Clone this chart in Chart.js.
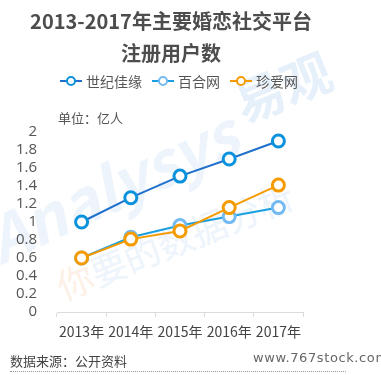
<!DOCTYPE html>
<html>
<head>
<meta charset="utf-8">
<script src="https://cdn.jsdelivr.net/npm/chart.js@4"></script>
<style>
body{margin:0;background:#fff;font-family:"Microsoft YaHei","Noto Sans CJK SC",sans-serif}
#wrap{position:relative;width:381px;height:375px;overflow:hidden}
#wrap canvas{position:absolute;left:0;top:0}
.txt{position:absolute;white-space:nowrap;color:#555}
.title{left:0;width:342px;text-align:center;font-size:20px;font-weight:bold;color:#4d4d4d}
.lg{position:absolute;top:73px;height:16px;font-size:14px;color:#555;line-height:16px}
.lg i{display:inline-block;position:relative;width:22px;height:16px;vertical-align:top;margin-right:4px}
.lg i:before{content:"";position:absolute;left:0;right:0;top:7px;height:2px;background:var(--c)}
.lg i:after{content:"";position:absolute;left:6px;top:3px;width:6px;height:6px;border-radius:50%;border:2px solid currentColor;background:#fff}
.wm{position:absolute;white-space:nowrap;color:#edf4fb;transform-origin:left top}
</style>
</head>
<body>
<div id="wrap">
  <div class="wm" style="left:-30px;top:200px;font-size:62px;font-weight:bold;font-style:italic;transform:rotate(-25deg)">Analysys</div>
  <div class="wm" style="left:222px;top:70px;font-size:50px;font-weight:bold;color:#e6f0fa;transform:rotate(-22deg)">易观</div>
  <div class="wm" style="left:48px;top:262px;font-size:36px;transform:rotate(-22deg)"><span style="color:#fdf0e6">你</span>要的数据分析</div>
  <canvas id="c" width="381" height="375"></canvas>
  <div class="txt title" style="top:6px">2013-2017年主要婚恋社交平台</div>
  <div class="txt title" style="top:38px">注册用户数</div>
  <div id="legend"></div>
  <div class="txt" style="left:58px;top:108px;font-size:13px">单位：亿人</div>
  <div class="txt" style="left:10px;top:351px;font-size:13px;color:#444">数据来源：公开资料</div>
  <div class="txt" style="left:253px;top:350px;font-size:13px;color:#666;letter-spacing:0.6px;font-family:'DejaVu Sans',sans-serif">www.767stock.com</div>
  <div style="position:absolute;left:10px;top:371px;width:336px;border-top:1px dotted #999"></div>
</div>
<script>
// data
const years = ["2013年", "2014年", "2015年", "2016年", "2017年"]
const jiayuan = [1.0, 1.27, 1.51, 1.7, 1.9]
const baihe = [0.6, 0.83, 0.96, 1.06, 1.16]
const zhenai = [0.6, 0.81, 0.9, 1.16, 1.41]
const names = ["世纪佳缘", "百合网", "珍爱网"]
const lineColors = ["#1f70cc", "#1a9fe0", "#f59b00"]
const dotColors = ["#0a93dc", "#74baf2", "#f59b00"]

// legend made by hand so it can sit where the original has it
const legendX = [60, 152, 230]
let lg = document.getElementById("legend")
names.forEach((n, i) => {
    let d = document.createElement("div")
    d.className = "lg"
    d.style.left = legendX[i] + "px"
    d.innerHTML = `<i style="color:${dotColors[i]};--c:${lineColors[i]}"></i>${n}`
    lg.appendChild(d)
})

function ds(label, data, i, order) {
    return {
        label: label,
        data: data,
        borderColor: lineColors[i],
        borderWidth: 2,
        pointRadius: 6,
        pointHoverRadius: 6,
        pointBorderWidth: 3,
        pointBorderColor: dotColors[i],
        pointBackgroundColor: "#fff",
        order: order,
        tension: 0
    }
}

new Chart(document.getElementById("c"), {
    type: "line",
    data: {
        labels: years,
        datasets: [ds(names[0], jiayuan, 0, 0), ds(names[1], baihe, 1, 2), ds(names[2], zhenai, 2, 1)]
    },
    options: {
        responsive: false,
        animation: false,
        layout: { padding: { left: 0, right: 78, top: 132, bottom: 0 } },
        plugins: { legend: { display: false }, tooltip: { enabled: false } },
        scales: {
            x: {
                offset: true,
                border: { color: "#dcdcdc" },
                grid: { drawOnChartArea: false, drawTicks: true, tickLength: 5, color: "#dcdcdc", offset: true },
                ticks: { color: "#444", font: { size: 14, family: "'Microsoft YaHei','Noto Sans CJK SC',sans-serif" }, padding: 6, maxRotation: 0, autoSkip: false },
                afterFit: s => { s.height = 63 }
            },
            y: {
                min: 0,
                max: 2,
                border: { display: false },
                grid: { display: false },
                ticks: {
                    stepSize: 0.2,
                    autoSkip: false,
                    padding: 12,
                    color: "#555",
                    font: { size: 15, family: "'Open Sans','Noto Sans CJK SC',sans-serif" },
                    callback: v => String(+v.toFixed(1))
                },
                afterFit: s => { s.width = 57 }
            }
        }
    }
})
</script>
</body>
</html>
